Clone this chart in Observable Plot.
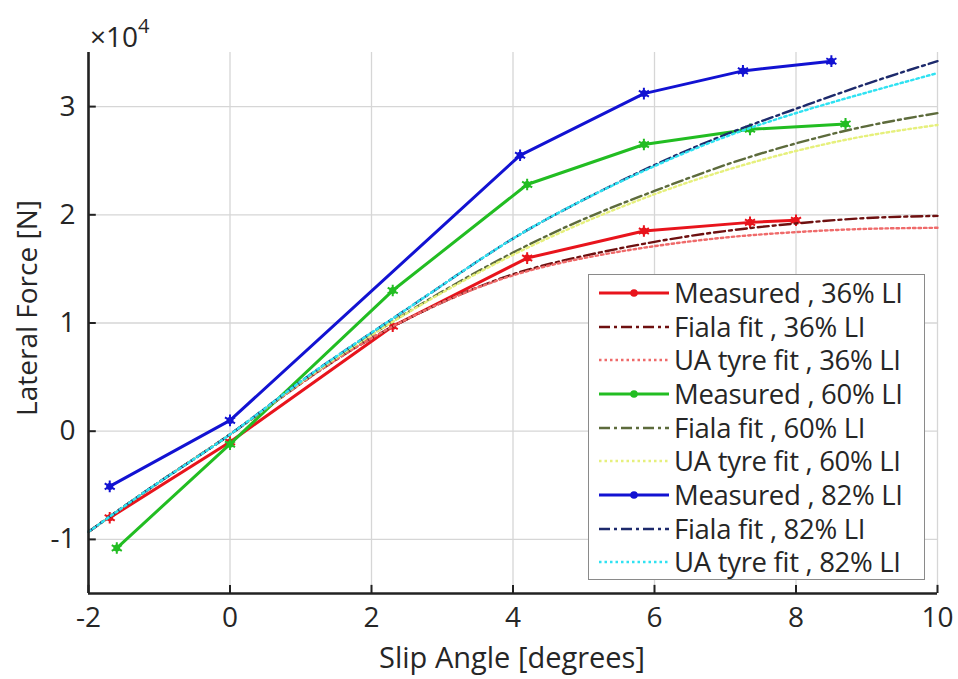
<!DOCTYPE html>
<html><head><meta charset="utf-8">
<script src="https://cdn.jsdelivr.net/npm/d3@7"></script>
<script src="https://cdn.jsdelivr.net/npm/@observablehq/plot@0.6"></script>
<style>
body{margin:0;background:#fff;font-family:"Open Sans",Lato,sans-serif}
#wrap{position:relative;width:958px;height:679px;overflow:hidden}
#legend{position:absolute;left:588px;top:274px;width:337px;height:306px;border:1.5px solid #8a8a8a;background:#fff;box-sizing:border-box;padding-top:1px}
.row{display:flex;align-items:center;height:33.7px;line-height:30px;font-size:27.5px;color:#262626;white-space:nowrap;letter-spacing:-0.3px}
.row svg{margin-left:10px;margin-right:5px;flex:none}
</style>
</head><body><div id="wrap"></div>
<script>
// x sample positions for fitted curves (degrees)
const fitX = [-2,-1,0,1,2,3,4,5,6,7,8,9,10];
// fitted curves, lateral force in units of 1e4 N
const fiala36 = [-0.93,-0.47,-0.03,0.44,0.86,1.19,1.45,1.62,1.75,1.85,1.92,1.97,1.99];
const ua36    = [-0.93,-0.47,-0.03,0.44,0.86,1.19,1.44,1.60,1.71,1.79,1.84,1.87,1.88];
const fiala60 = [-0.93,-0.47,-0.03,0.45,0.89,1.29,1.65,1.96,2.22,2.46,2.66,2.82,2.94];
const ua60    = [-0.93,-0.47,-0.03,0.45,0.89,1.28,1.63,1.93,2.19,2.41,2.59,2.73,2.83];
const fiala82 = [-0.93,-0.47,-0.03,0.46,0.91,1.35,1.78,2.14,2.46,2.74,2.98,3.21,3.42];
const ua82    = [-0.93,-0.47,-0.03,0.46,0.91,1.35,1.78,2.14,2.45,2.72,2.94,3.13,3.31];
// measured points
const meas36X = [-1.7,0,2.3,4.2,5.85,7.35,8.0];
const meas36Y = [-0.80,-0.10,0.97,1.60,1.85,1.93,1.95];
const meas60X = [-1.6,0,2.3,4.2,5.85,7.35,8.7];
const meas60Y = [-1.08,-0.12,1.30,2.28,2.65,2.79,2.84];
const meas82X = [-1.7,0,4.1,5.85,7.25,8.5];
const meas82Y = [-0.51,0.10,2.55,3.12,3.33,3.42];
// labels
const xTicks = [-2,0,2,4,6,8,10];
const yTicks = [-1,0,1,2,3];
const xLabel = "Slip Angle [degrees]";
const yLabel = "Lateral Force [N]";

const series = [
  {name:"Measured , 36% LI", kind:"meas", color:"#e8141c", xs:meas36X, ys:meas36Y},
  {name:"Fiala fit , 36% LI", kind:"fiala", color:"#6e1010", xs:fitX, ys:fiala36},
  {name:"UA tyre fit , 36% LI", kind:"ua", color:"#ef6a6a", xs:fitX, ys:ua36},
  {name:"Measured , 60% LI", kind:"meas", color:"#22bd22", xs:meas60X, ys:meas60Y},
  {name:"Fiala fit , 60% LI", kind:"fiala", color:"#5d6b3c", xs:fitX, ys:fiala60},
  {name:"UA tyre fit , 60% LI", kind:"ua", color:"#e6f07c", xs:fitX, ys:ua60},
  {name:"Measured , 82% LI", kind:"meas", color:"#1212d2", xs:meas82X, ys:meas82Y},
  {name:"Fiala fit , 82% LI", kind:"fiala", color:"#1d2a6c", xs:fitX, ys:fiala82},
  {name:"UA tyre fit , 82% LI", kind:"ua", color:"#2fe2f2", xs:fitX, ys:ua82}
];
const dashOf = {meas:null, fiala:"11,4,3,4", ua:"2.5,3"};
const widthOf = {meas:3, fiala:2.4, ua:2.4};

const fmt = d => String(d);
const marks = [
  Plot.gridX(xTicks, {stroke:"#d6d6d6", strokeOpacity:1, strokeWidth:1.3}),
  Plot.gridY(yTicks, {stroke:"#d6d6d6", strokeOpacity:1, strokeWidth:1.3})
];
for (const s of series) {
  const data = s.xs.map((x,i)=>({x, y:s.ys[i]}));
  marks.push(Plot.line(data, {x:"x", y:"y", stroke:s.color, strokeWidth:widthOf[s.kind],
    strokeDasharray:dashOf[s.kind], curve: s.kind==="meas" ? "linear" : "natural"}));
  if (s.kind==="meas") {
    marks.push(Plot.dot(data, {x:"x", y:"y", fill:s.color, r:3.5}));
    marks.push(Plot.dot(data, {x:"x", y:"y", symbol:"asterisk", stroke:s.color, strokeWidth:2, r:5.5}));
  }
}
// axes lines and inward ticks
marks.push(Plot.ruleX([-2], {stroke:"#222", strokeWidth:2.6}));
marks.push(Plot.ruleY([-1.5], {stroke:"#222", strokeWidth:2.6}));
marks.push(Plot.ruleX(xTicks, {x:d=>d, y1:-1.5, y2:-1.5+0.075, stroke:"#222", strokeWidth:2}));
marks.push(Plot.ruleY(yTicks, {y:d=>d, x1:-2, x2:-2+0.11, stroke:"#222", strokeWidth:2}));
marks.push(Plot.axisX(xTicks, {tickSize:0, tickPadding:14, fontSize:28, color:"#262626", label:null, tickFormat:fmt}));
marks.push(Plot.axisY(yTicks, {tickSize:0, tickPadding:13, fontSize:28, color:"#262626", label:null, tickFormat:fmt}));

const chart = Plot.plot({
  width:958, height:679,
  marginLeft:88, marginRight:21, marginTop:52, marginBottom:86,
  x:{domain:[-2,10]}, y:{domain:[-1.5,3.5]},
  style:{fontFamily:"'Open Sans', Lato, sans-serif", background:"#fff", color:"#262626"},
  marks
});
const wrap = document.getElementById("wrap");
wrap.appendChild(chart);

// axis titles and exponent
const svg = d3.select(chart);
svg.append("text").attr("x", 512).attr("y", 668).attr("text-anchor","middle")
  .attr("font-size", 29).attr("fill","#262626").text(xLabel);
svg.append("text").attr("transform","translate(37,308) rotate(-90)").attr("text-anchor","middle")
  .attr("font-size", 28).attr("fill","#262626").text(yLabel);
const ex = svg.append("text").attr("x", 90).attr("y", 47).attr("text-anchor","start")
  .attr("font-size", 28).attr("fill","#262626");
ex.append("tspan").text("\u00d710");
ex.append("tspan").attr("dy",-14).attr("font-size",20).text("4");

// legend
const leg = d3.select(wrap).append("div").attr("id","legend");
for (const s of series) {
  const row = leg.append("div").attr("class","row");
  const sv = row.append("svg").attr("width",70).attr("height",20);
  sv.append("line").attr("x1",0).attr("x2",70).attr("y1",10).attr("y2",10)
    .attr("stroke",s.color).attr("stroke-width",widthOf[s.kind])
    .attr("stroke-dasharray",dashOf[s.kind]);
  if (s.kind==="meas") {
    sv.append("circle").attr("cx",35).attr("cy",10).attr("r",3.8).attr("fill",s.color);
  }
  row.append("span").text(s.name);
}
</script>
</body></html>
